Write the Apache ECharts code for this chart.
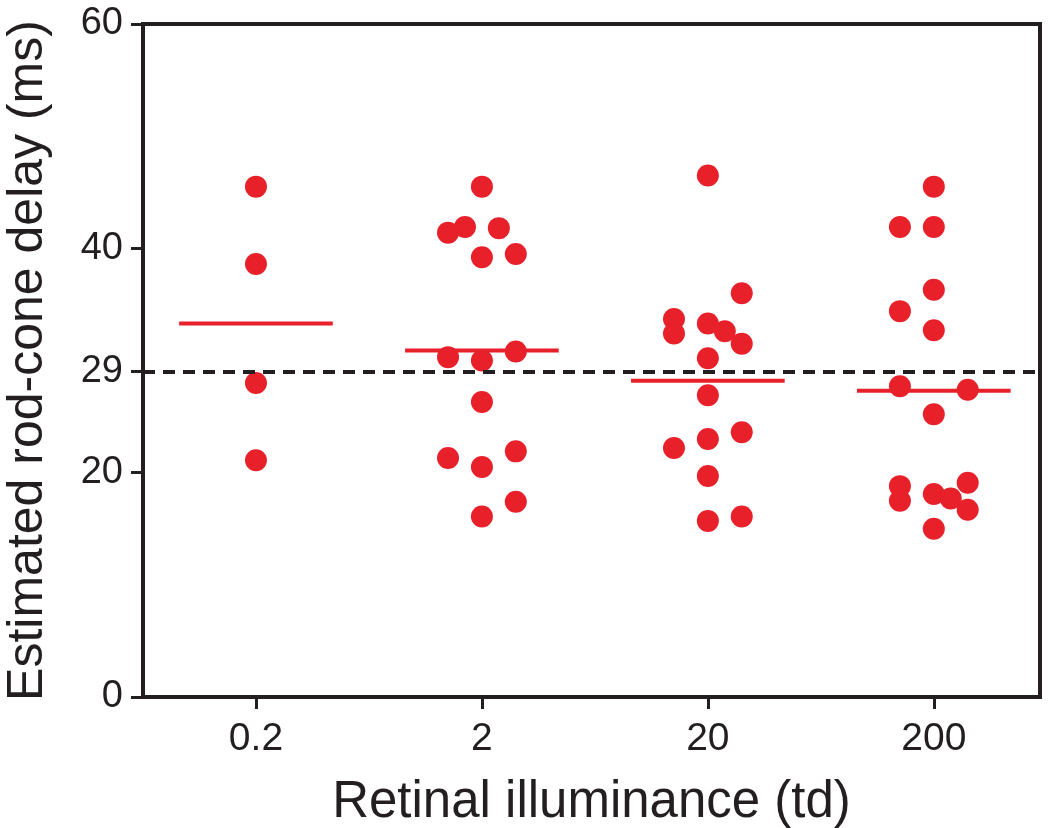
<!DOCTYPE html>
<html>
<head>
<meta charset="utf-8">
<script src="https://cdn.jsdelivr.net/npm/echarts@6/dist/echarts.min.js"></script>
<style>
  html, body { margin: 0; padding: 0; background: #fff; }
  #chart { width: 1050px; height: 828px; }
</style>
</head>
<body>
<div id="chart"></div>
<script>
// categories on the x axis (retinal illuminance, td)
var categories = ['0.2', '2', '20', '200'];
// y axis tick labels
var yTicks = [0, 20, 29, 40, 60];
var refLine = 29;

var delays02 = [45.5, 38.6, 28.0, 21.1];
var jitter02 = [0, 0, 0, 0];
var delays2 = [45.5, 41.4, 41.9, 41.8, 39.2, 39.5, 30.3, 30.0, 30.8, 26.3, 21.3, 20.5, 21.9, 17.4, 16.1];
var jitter2 = [0, -0.15, -0.075, 0.075, 0, 0.15, -0.15, 0, 0.15, 0, -0.15, 0, 0.15, 0.15, 0];
var delays20 = [46.5, 36.0, 33.7, 32.4, 33.3, 32.6, 31.5, 30.2, 26.9, 23.6, 23.0, 22.2, 19.7, 16.1, 15.7];
var jitter20 = [0, 0.15, -0.15, -0.15, 0, 0.075, 0.15, 0, 0, 0.15, 0, -0.15, 0, 0.15, 0];
var delays200 = [45.5, 41.9, 41.9, 36.3, 34.4, 32.7, 27.7, 27.4, 25.2, 19.1, 18.8, 17.5, 18.1, 17.7, 16.7, 15.0];
var jitter200 = [0, -0.15, 0, 0, -0.15, 0, -0.15, 0.15, 0, 0.15, -0.15, -0.15, 0, 0.075, 0.15, 0];
// group means (red bars)
var means = [33.3, 30.9, 28.2, 27.3];

var groups = [
    [delays02, jitter02],
    [delays2, jitter2],
    [delays20, jitter20],
    [delays200, jitter200]
];

var red = '#e8202a';
var ink = '#231f20';
var font = 'Liberation Sans, Arial, Helvetica, sans-serif';

var points = [];
groups.forEach(function (g, i) {
    g[0].forEach(function (v, k) {
        points.push([i + g[1][k], v]);
    });
});

var meanSeries = means.map(function (m, i) {
    return {
        type: 'line',
        data: [[i - 0.34, m], [i + 0.34, m]],
        symbol: 'none',
        silent: true,
        z: 4,
        lineStyle: { color: red, width: 4 }
    };
});

var myChart = echarts.init(document.getElementById('chart'));
var option = {
    animation: false,
    backgroundColor: '#fff',
    grid: {
        left: 143,
        right: 10,
        top: 24,
        bottom: 131,
        show: true,
        borderColor: ink,
        borderWidth: 4,
        outerBoundsMode: 'none'
    },
    xAxis: {
        type: 'value',
        min: -0.5,
        max: 3.47,
        name: 'Retinal illuminance (td)',
        nameLocation: 'middle',
        nameGap: 80,
        nameTextStyle: { fontSize: 51, color: ink, fontFamily: font },
        axisLine: { show: false, onZero: false },
        splitLine: { show: false },
        axisTick: {
            customValues: [0, 1, 2, 3],
            length: 12,
            lineStyle: { color: ink, width: 3 }
        },
        axisLabel: {
            customValues: [0, 1, 2, 3],
            fontSize: 39,
            color: ink,
            fontFamily: font,
            margin: 23,
            formatter: function (v) { return categories[Math.round(v)]; }
        }
    },
    yAxis: {
        type: 'value',
        min: 0,
        max: 60,
        name: 'Estimated rod-cone delay (ms)',
        nameLocation: 'middle',
        nameGap: 90,
        nameTextStyle: { fontSize: 50, color: ink, fontFamily: font },
        axisLine: { show: false, onZero: false },
        splitLine: { show: false },
        axisTick: {
            customValues: yTicks,
            length: 12,
            lineStyle: { color: ink, width: 3 }
        },
        axisLabel: {
            customValues: yTicks,
            fontSize: 38,
            color: ink,
            fontFamily: font,
            margin: 20
        }
    },
    series: [
        {
            type: 'scatter',
            data: points,
            symbolSize: 22,
            z: 3,
            itemStyle: { color: red, opacity: 1 },
            markLine: {
                silent: true,
                symbol: ['none', 'none'],
                label: { show: false },
                lineStyle: { color: ink, type: [12, 8], width: 4 },
                data: [{ yAxis: refLine }]
            }
        }
    ].concat(meanSeries)
};
myChart.setOption(option);
</script>
</body>
</html>
